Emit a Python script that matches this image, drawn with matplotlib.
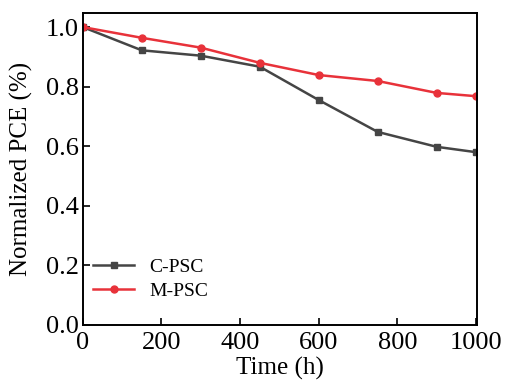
import matplotlib
matplotlib.use('Agg')
import matplotlib.pyplot as plt

plt.rcParams['font.family'] = ['Liberation Serif', 'DejaVu Serif']
plt.rcParams['mathtext.fontset'] = 'stix'

time_h = [0, 150, 300, 450, 600, 750, 900, 1000]
c_psc = [1.0, 0.922, 0.904, 0.867, 0.755, 0.648, 0.598, 0.580]
m_psc = [1.0, 0.964, 0.931, 0.880, 0.839, 0.819, 0.779, 0.768]

fig = plt.figure(figsize=(5.05, 3.85), dpi=100)
ax = fig.add_axes([0.164, 0.156, 0.781, 0.81])

ax.plot(time_h, c_psc, color='#454545', marker='s', markersize=5, linewidth=1.8, label='C-PSC')
ax.plot(time_h, m_psc, color='#e8323a', marker='o', markersize=5, linewidth=1.8, label='M-PSC')

ax.set_xlim(0, 1003)
ax.set_ylim(0, 1.047)
ax.set_xticks([0, 200, 400, 600, 800, 1000])
ax.set_yticks([0.0, 0.2, 0.4, 0.6, 0.8, 1.0])
ax.set_yticklabels(['0.0', '0.2', '0.4', '0.6', '0.8', '1.0'])
ax.tick_params(direction='in', labelsize=19, width=1.2, length=5)
ax.tick_params(axis='x', pad=5)
ax.tick_params(axis='y', pad=3)
for s in ax.spines.values():
    s.set_linewidth(1.4)

ax.set_xlabel('Time (h)', fontsize=18, labelpad=2)
ax.set_ylabel('Normalized PCE (%)', fontsize=18, labelpad=9)

ax.legend(loc='upper left', bbox_to_anchor=(-0.003, 0.25), frameon=False, fontsize=14,
          handlelength=2.1, handletextpad=0.8, labelspacing=0.3, borderaxespad=0.2)

fig.savefig('out.png', dpi=100)
